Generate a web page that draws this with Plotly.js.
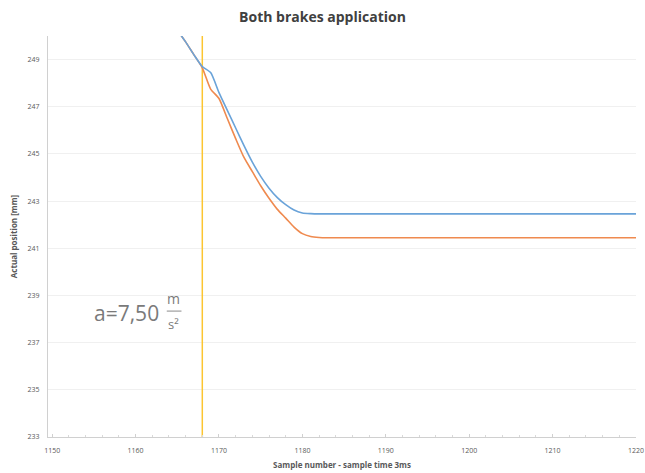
<!DOCTYPE html>
<html>
<head>
<meta charset="utf-8">
<script src="https://cdn.plot.ly/plotly-3.0.1.min.js"></script>
<style>html,body{margin:0;padding:0;background:#fff;}#chart{width:645px;height:473px;}</style>
</head>
<body>
<div id="chart"></div>
<script>
const samples = [1165,1166,1167,1168,1169,1170,1171,1172,1173,1174,1175,1176,1177,1178,1179,1180,1181,1182,1183,1184,1185,1190,1195,1200,1205,1210,1215,1220];
const brakeA = [250.25,249.75,249.2,248.7,248.45,247.6,246.85,246.1,245.35,244.65,244.05,243.55,243.15,242.85,242.62,242.5,242.47,242.46,242.46,242.46,242.46,242.46,242.46,242.46,242.46,242.46,242.46,242.46];
const brakeB = [250.25,249.75,249.2,248.65,247.75,247.35,246.5,245.65,244.85,244.25,243.65,243.12,242.65,242.28,241.9,241.62,241.5,241.46,241.45,241.45,241.45,241.45,241.45,241.45,241.45,241.45,241.45,241.45];
const markerSample = [1168, 1168];
const markerRange = [233, 250];
const xTicks = [1150,1160,1170,1180,1190,1200,1210,1220];
const yTicks = [233,235,237,239,241,243,245,247,249];

const traces = [
  {x: markerSample, y: markerRange, mode: 'lines', line: {color: '#fcc531', width: 1.5}, hoverinfo: 'skip'},
  {x: samples, y: brakeB, mode: 'lines', line: {color: '#ef8a4f', width: 1.6, shape: 'spline', smoothing: 0.6}},
  {x: samples, y: brakeA, mode: 'lines', line: {color: '#6aa3d9', width: 1.6, shape: 'spline', smoothing: 0.6}}
];

const layout = {
  width: 645, height: 473,
  margin: {l: 48, r: 9, t: 36, b: 36},
  paper_bgcolor: '#ffffff', plot_bgcolor: '#ffffff',
  showlegend: false,
  font: {family: 'Open Sans, sans-serif', color: '#595959'},
  title: {text: '<b>Both brakes application</b>', x: 0.5, xanchor: 'center', y: 0.975, yanchor: 'top',
          font: {size: 14, color: '#404040', family: 'Open Sans, sans-serif'}},
  xaxis: {
    range: [1149.5, 1220], tickvals: xTicks, ticktext: xTicks.map(String),
    showgrid: false, zeroline: false, showline: true, linecolor: '#d0d0d0', linewidth: 1.2,
    ticks: 'inside', ticklen: 3, tickcolor: '#d0d0d0',
    minor: {dtick: 2, ticks: 'inside', ticklen: 2, tickcolor: '#d9d9d9', showgrid: false},
    tickfont: {size: 7, color: '#595959'}, ticklabelstandoff: 6,
    title: {text: '<b>Sample number - sample time 3ms</b>', standoff: 8, font: {size: 8, color: '#595959'}}
  },
  yaxis: {
    range: [233, 250], tickvals: yTicks, ticktext: yTicks.map(String),
    showgrid: true, gridcolor: '#f0f0f0', gridwidth: 1, zeroline: false,
    showline: true, linecolor: '#d0d0d0', linewidth: 1.2, ticks: '',
    tickfont: {size: 7, color: '#595959'}, ticklabelstandoff: 6,
    title: {text: '<b>Actual position [mm]</b>', standoff: 8, font: {size: 8, color: '#595959'}}
  },
  annotations: [
    {xref: 'paper', yref: 'paper', x: 0.193, y: 0.309, xanchor: 'right', yanchor: 'middle', showarrow: false,
     text: 'a=7,50', font: {size: 21, color: '#7a7a7a', family: 'Open Sans, sans-serif'}},
    {xref: 'paper', yref: 'paper', x: 0.214, y: 0.345, xanchor: 'center', yanchor: 'middle', showarrow: false,
     text: 'm', font: {size: 14, color: '#7a7a7a', family: 'Open Sans, sans-serif'}},
    {xref: 'paper', yref: 'paper', x: 0.214, y: 0.282, xanchor: 'center', yanchor: 'middle', showarrow: false,
     text: 's²', font: {size: 13, color: '#7a7a7a', family: 'Open Sans, sans-serif'}}
  ],
  shapes: [
    {type: 'line', xref: 'paper', yref: 'paper', x0: 0.202, x1: 0.227, y0: 0.314, y1: 0.314, line: {color: '#8a8a8a', width: 1}}
  ]
};

Plotly.newPlot('chart', traces, layout, {displayModeBar: false, staticPlot: true});
</script>
</body>
</html>
